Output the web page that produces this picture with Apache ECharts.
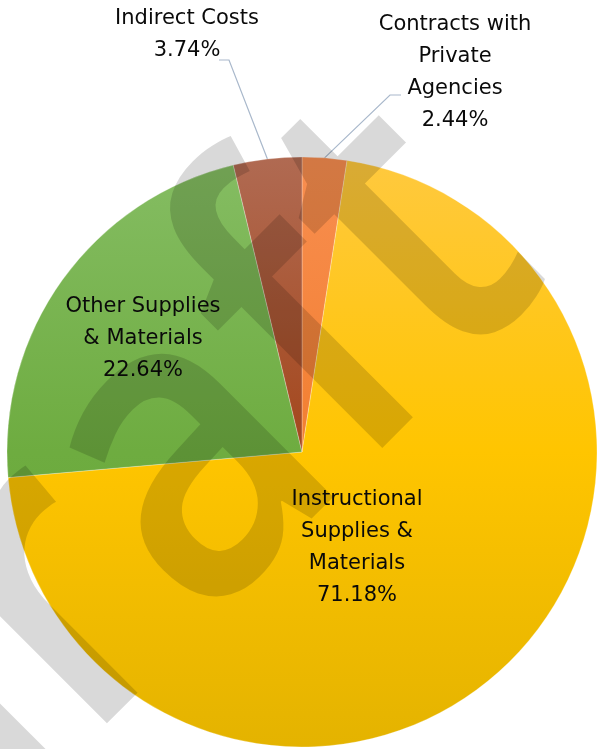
<!DOCTYPE html>
<html>
<head>
<meta charset="utf-8">
<style>
html,body{margin:0;padding:0;background:#fff;}
#chart{width:599px;height:749px;}
</style>
<script src="https://cdn.jsdelivr.net/npm/echarts@6/dist/echarts.min.js"></script>
</head>
<body>
<div id="chart"></div>
<script>
// Data (clockwise from 12 o'clock)
var categories = ['Contracts with\nPrivate\nAgencies', 'Instructional\nSupplies &\nMaterials', 'Other Supplies\n& Materials', 'Indirect Costs'];
var percentValues = [2.44, 71.18, 22.64, 3.74];
var watermarkText = 'draft';

var sliceColors = [
  ['#F88E50', '#F27F30', '#EC7020'],
  ['#FFC93F', '#FFC500', '#E4B300'],
  ['#85BD63', '#6EAC40', '#62A232'],
  ['#B06A52', '#A4471C', '#983806']
];
var labelPos = [
  {x: 455, y: 73},
  {x: 357, y: 548},
  {x: 143, y: 339},
  {x: 187, y: 35}
];
// leader line: [elbow dx, end dx, dy] relative to label centre
var leaderOffsets = {
  0: [-65, -54, 22],
  3: [42, 32, 25]
};

var chart = echarts.init(document.getElementById('chart'), null, {renderer: 'canvas'});
var cx = 302, cy = 452, R = 295;

function grad(c) {
  return {
    type: 'linear', x: 0, y: cy - R, x2: 0, y2: cy + R, global: true,
    colorStops: [{offset: 0, color: c[0]}, {offset: 0.5, color: c[1]}, {offset: 1, color: c[2]}]
  };
}

var data = categories.map(function (n, i) {
  var outside = (i === 0 || i === 3);
  return {
    name: n,
    value: percentValues[i],
    itemStyle: {color: grad(sliceColors[i])},
    label: {position: outside ? 'outside' : 'inside'},
    labelLine: {show: outside}
  };
});

chart.setOption({
  animation: false,
  series: [{
    type: 'pie',
    center: [cx, cy],
    radius: [0, R],
    startAngle: 90,
    clockwise: true,
    data: data,
    itemStyle: {borderColor: 'rgba(255,255,255,0.45)', borderWidth: 0.6},
    label: {
      show: true,
      formatter: function (p) { return p.name + '\n' + p.value.toFixed(2) + '%'; },
      fontFamily: 'DejaVu Sans',
      fontSize: 21,
      lineHeight: 32,
      color: '#0a0a0a',
      align: 'center'
    },
    labelLine: {
      show: true,
      lineStyle: {color: '#A9B8CB', width: 1.2},
      length: 20,
      length2: 10
    },
    labelLayout: function (p) {
      var lp = labelPos[p.dataIndex];
      var res = {x: lp.x, y: lp.y, align: 'center', verticalAlign: 'middle'};
      var off = leaderOffsets[p.dataIndex];
      if (off && p.labelLinePoints) {
        var a = p.labelLinePoints[0];
        res.labelLinePoints = [
          [a[0], a[1]],
          [lp.x + off[0], lp.y + off[2]],
          [lp.x + off[1], lp.y + off[2]]
        ];
      }
      return res;
    },
    emphasis: {disabled: true}
  }],
  graphic: [{
    type: 'text',
    z: 100,
    x: 149,
    y: 504,
    rotation: Math.PI / 4,
    scaleY: 1.17,
    silent: true,
    style: {
      text: watermarkText,
      font: '600 376px "Open Sans"',
      fill: 'rgba(0,0,0,0.15)',
      align: 'center',
      verticalAlign: 'middle'
    }
  }]
});
</script>
</body>
</html>
